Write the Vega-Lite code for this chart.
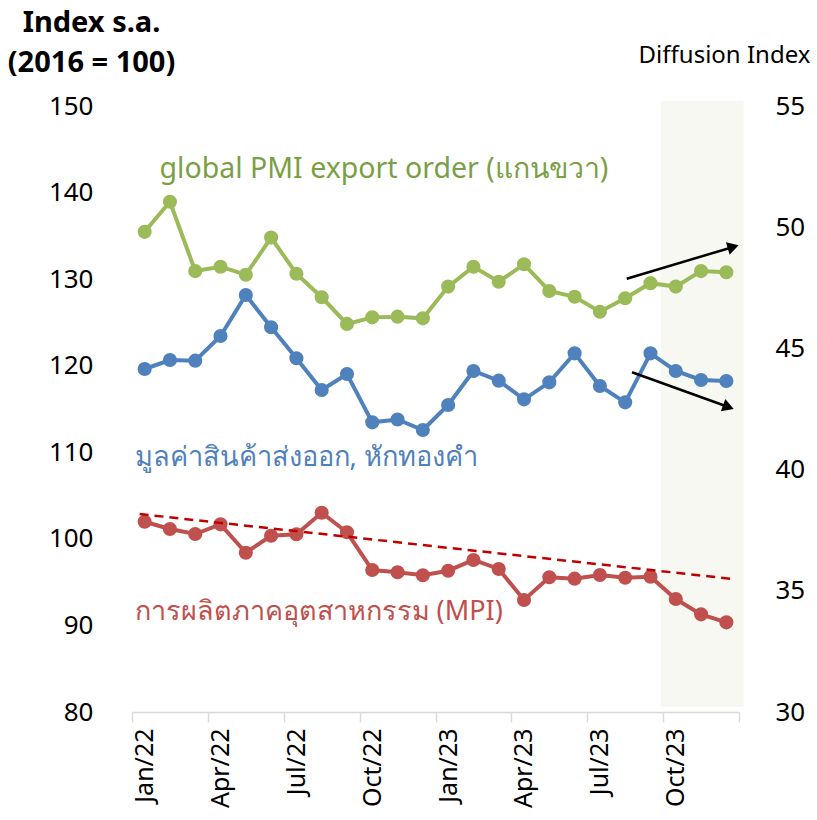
{
  "$schema": "https://vega.github.io/schema/vega-lite/v6.json",
  "width": 607,
  "height": 606,
  "autosize": {"type": "none"},
  "padding": {"left": 132, "top": 106, "right": 78, "bottom": 108},
  "background": "white",
  "config": {
    "view": {"stroke": null},
    "font": "Noto Sans",
    "axis": {"labelFont": "Noto Sans", "titleFont": "Noto Sans", "grid": false}
  },
  "datasets": {
    "series": [
      {"m": "Jan/22", "t": 0, "exp": 119.62, "mpi": 101.98, "pmi": 49.81},
      {"m": "Feb/22", "t": 1, "exp": 120.66, "mpi": 101.14, "pmi": 51.05},
      {"m": "Mar/22", "t": 2, "exp": 120.58, "mpi": 100.56, "pmi": 48.19},
      {"m": "Apr/22", "t": 3, "exp": 123.43, "mpi": 101.68, "pmi": 48.37},
      {"m": "May/22", "t": 4, "exp": 128.17, "mpi": 98.4, "pmi": 48.04},
      {"m": "Jun/22", "t": 5, "exp": 124.44, "mpi": 100.36, "pmi": 49.57},
      {"m": "Jul/22", "t": 6, "exp": 120.86, "mpi": 100.53, "pmi": 48.08},
      {"m": "Aug/22", "t": 7, "exp": 117.19, "mpi": 103.02, "pmi": 47.11},
      {"m": "Sep/22", "t": 8, "exp": 119.04, "mpi": 100.76, "pmi": 46.01},
      {"m": "Oct/22", "t": 9, "exp": 113.46, "mpi": 96.4, "pmi": 46.28},
      {"m": "Nov/22", "t": 10, "exp": 113.79, "mpi": 96.14, "pmi": 46.31},
      {"m": "Dec/22", "t": 11, "exp": 112.57, "mpi": 95.8, "pmi": 46.24},
      {"m": "Jan/23", "t": 12, "exp": 115.46, "mpi": 96.32, "pmi": 47.55},
      {"m": "Feb/23", "t": 13, "exp": 119.39, "mpi": 97.56, "pmi": 48.37},
      {"m": "Mar/23", "t": 14, "exp": 118.27, "mpi": 96.52, "pmi": 47.75},
      {"m": "Apr/23", "t": 15, "exp": 116.12, "mpi": 92.94, "pmi": 48.47},
      {"m": "May/23", "t": 16, "exp": 118.08, "mpi": 95.56, "pmi": 47.37},
      {"m": "Jun/23", "t": 17, "exp": 121.43, "mpi": 95.4, "pmi": 47.13},
      {"m": "Jul/23", "t": 18, "exp": 117.66, "mpi": 95.82, "pmi": 46.51},
      {"m": "Aug/23", "t": 19, "exp": 115.77, "mpi": 95.51, "pmi": 47.07},
      {"m": "Sep/23", "t": 20, "exp": 121.43, "mpi": 95.63, "pmi": 47.69},
      {"m": "Oct/23", "t": 21, "exp": 119.39, "mpi": 93.05, "pmi": 47.55},
      {"m": "Nov/23", "t": 22, "exp": 118.35, "mpi": 91.28, "pmi": 48.19},
      {"m": "Dec/23", "t": 23, "exp": 118.23, "mpi": 90.36, "pmi": 48.14}
    ],
    "trend": [
      {"t": -0.2, "v": 102.87},
      {"t": 23.25, "v": 95.37}
    ],
    "shade": [
      {"t": 20.4, "t2": 23.68, "v": 150.58, "v2": 80.58}
    ],
    "arrows": [
      {"arrow": "up", "t": 19.06, "v": 130.05, "t2": 23.27, "v2": 133.72},
      {"arrow": "down", "t": 19.27, "v": 119.24, "t2": 23.08, "v2": 115.23}
    ],
    "labels": [
      {"s": "pmi", "label": "global PMI export order (แกนขวา)", "t": 0.59, "v": 141.68},
      {"s": "exp", "label": "มูลค่าสินค้าส่งออก, หักทองคำ", "t": -0.4, "v": 108.41},
      {"s": "mpi", "label": "การผลิตภาคอุตสาหกรรม (MPI)", "t": -0.4, "v": 90.63}
    ]
  },
  "encoding": {
    "x": {
      "field": "t",
      "type": "quantitative",
      "scale": {"domain": [-0.5, 23.5], "nice": false, "zero": false},
      "axis": {
        "values": [-0.5, 2.5, 5.5, 8.5, 11.5, 14.5, 17.5, 20.5, 23.5],
        "labelExpr": "['Jan/22','Apr/22','Jul/22','Oct/22','Jan/23','Apr/23','Jul/23','Oct/23',''][round((datum.value+0.5)/3)]",
        "labelAngle": 270,
        "labelAlign": "right",
        "labelBaseline": "middle",
        "labelOffset": 12.6,
        "labelFontSize": 25,
        "labelColor": "#000000",
        "labelPadding": 6,
        "labelFlush": false,
        "labelOverlap": false,
        "tickSize": 10,
        "tickColor": "#D9D9D9",
        "tickWidth": 1.5,
        "domainColor": "#D9D9D9",
        "domainWidth": 1.5,
        "grid": false,
        "title": null
      }
    }
  },
  "layer": [
    {
      "encoding": {
        "y": {
          "field": "v",
          "type": "quantitative",
          "scale": {"domain": [80, 150], "nice": false, "zero": false},
          "axis": {
            "orient": "left",
            "values": [80, 90, 100, 110, 120, 130, 140, 150],
            "domain": false,
            "ticks": false,
            "tickSize": 0,
            "labelPadding": 39,
            "labelFontSize": 26,
            "labelColor": "#000000",
            "grid": false,
            "title": ["Index s.a.", "(2016 = 100)"],
            "titleAngle": 0,
            "titleAlign": "center",
            "titleBaseline": "alphabetic",
            "titleX": -41,
            "titleY": -75,
            "titleFontSize": 29,
            "titleFontWeight": "bold",
            "titleColor": "#000000",
            "titleLineHeight": 40
          }
        }
      },
      "layer": [
        {
          "data": {"name": "shade"},
          "mark": {"type": "rect", "color": "#F8F8F3"},
          "encoding": {"x2": {"field": "t2"}, "y2": {"field": "v2"}}
        },
        {
          "data": {"name": "series"},
          "transform": [{"fold": ["mpi"], "as": ["s", "v"]}],
          "mark": {"type": "line", "color": "#C0504D", "strokeWidth": 4, "point": {"filled": true, "size": 200, "color": "#C0504D", "opacity": 1}}
        },
        {
          "data": {"name": "series"},
          "transform": [{"fold": ["exp"], "as": ["s", "v"]}],
          "mark": {"type": "line", "color": "#4F81BD", "strokeWidth": 4, "point": {"filled": true, "size": 200, "color": "#4F81BD", "opacity": 1}}
        },
        {
          "data": {"name": "trend"},
          "mark": {"type": "line", "color": "#C00000", "strokeWidth": 2.5, "strokeDash": [9, 6]}
        },
        {
          "data": {"name": "arrows"},
          "mark": {"type": "rule", "color": "#000000", "strokeWidth": 2.5},
          "encoding": {"x2": {"field": "t2"}, "y2": {"field": "v2"}}
        },
        {
          "data": {"name": "arrows"},
          "transform": [{"filter": "datum.arrow == 'up'"}],
          "mark": {"type": "point", "shape": "triangle-right", "filled": true, "color": "#000000", "size": 170, "angle": -16.6, "opacity": 1},
          "encoding": {"x": {"field": "t2", "type": "quantitative"}, "y": {"field": "v2", "type": "quantitative"}}
        },
        {
          "data": {"name": "arrows"},
          "transform": [{"filter": "datum.arrow == 'down'"}],
          "mark": {"type": "point", "shape": "triangle-right", "filled": true, "color": "#000000", "size": 170, "angle": 19.8, "opacity": 1},
          "encoding": {"x": {"field": "t2", "type": "quantitative"}, "y": {"field": "v2", "type": "quantitative"}}
        },
        {
          "data": {"name": "labels"},
          "transform": [{"filter": "datum.s == 'pmi'"}],
          "mark": {"type": "text", "align": "left", "baseline": "alphabetic", "fontSize": 28.5, "color": "#7A9F45"},
          "encoding": {"text": {"field": "label"}}
        },
        {
          "data": {"name": "labels"},
          "transform": [{"filter": "datum.s == 'exp'"}],
          "mark": {"type": "text", "align": "left", "baseline": "alphabetic", "fontSize": 27.2, "color": "#4F81BD"},
          "encoding": {"text": {"field": "label"}}
        },
        {
          "data": {"name": "labels"},
          "transform": [{"filter": "datum.s == 'mpi'"}],
          "mark": {"type": "text", "align": "left", "baseline": "alphabetic", "fontSize": 27, "color": "#C0504D"},
          "encoding": {"text": {"field": "label"}}
        }
      ]
    },
    {
      "data": {"name": "series"},
      "transform": [{"fold": ["pmi"], "as": ["s", "v"]}],
      "mark": {"type": "line", "color": "#9BBB59", "strokeWidth": 4, "point": {"filled": true, "size": 200, "color": "#9BBB59", "opacity": 1}},
      "encoding": {
        "y": {
          "field": "v",
          "type": "quantitative",
          "scale": {"domain": [30, 55], "nice": false, "zero": false},
          "axis": {
            "orient": "right",
            "values": [30, 35, 40, 45, 50, 55],
            "domain": false,
            "ticks": false,
            "tickSize": 0,
            "labelPadding": 36,
            "labelFontSize": 26,
            "labelColor": "#000000",
            "grid": false,
            "title": "Diffusion Index",
            "titleAngle": 0,
            "titleAlign": "center",
            "titleBaseline": "alphabetic",
            "titleX": -15,
            "titleY": -44,
            "titleFontSize": 24,
            "titleFontWeight": "normal",
            "titleColor": "#000000"
          }
        }
      }
    }
  ],
  "resolve": {"scale": {"y": "independent"}}
}
